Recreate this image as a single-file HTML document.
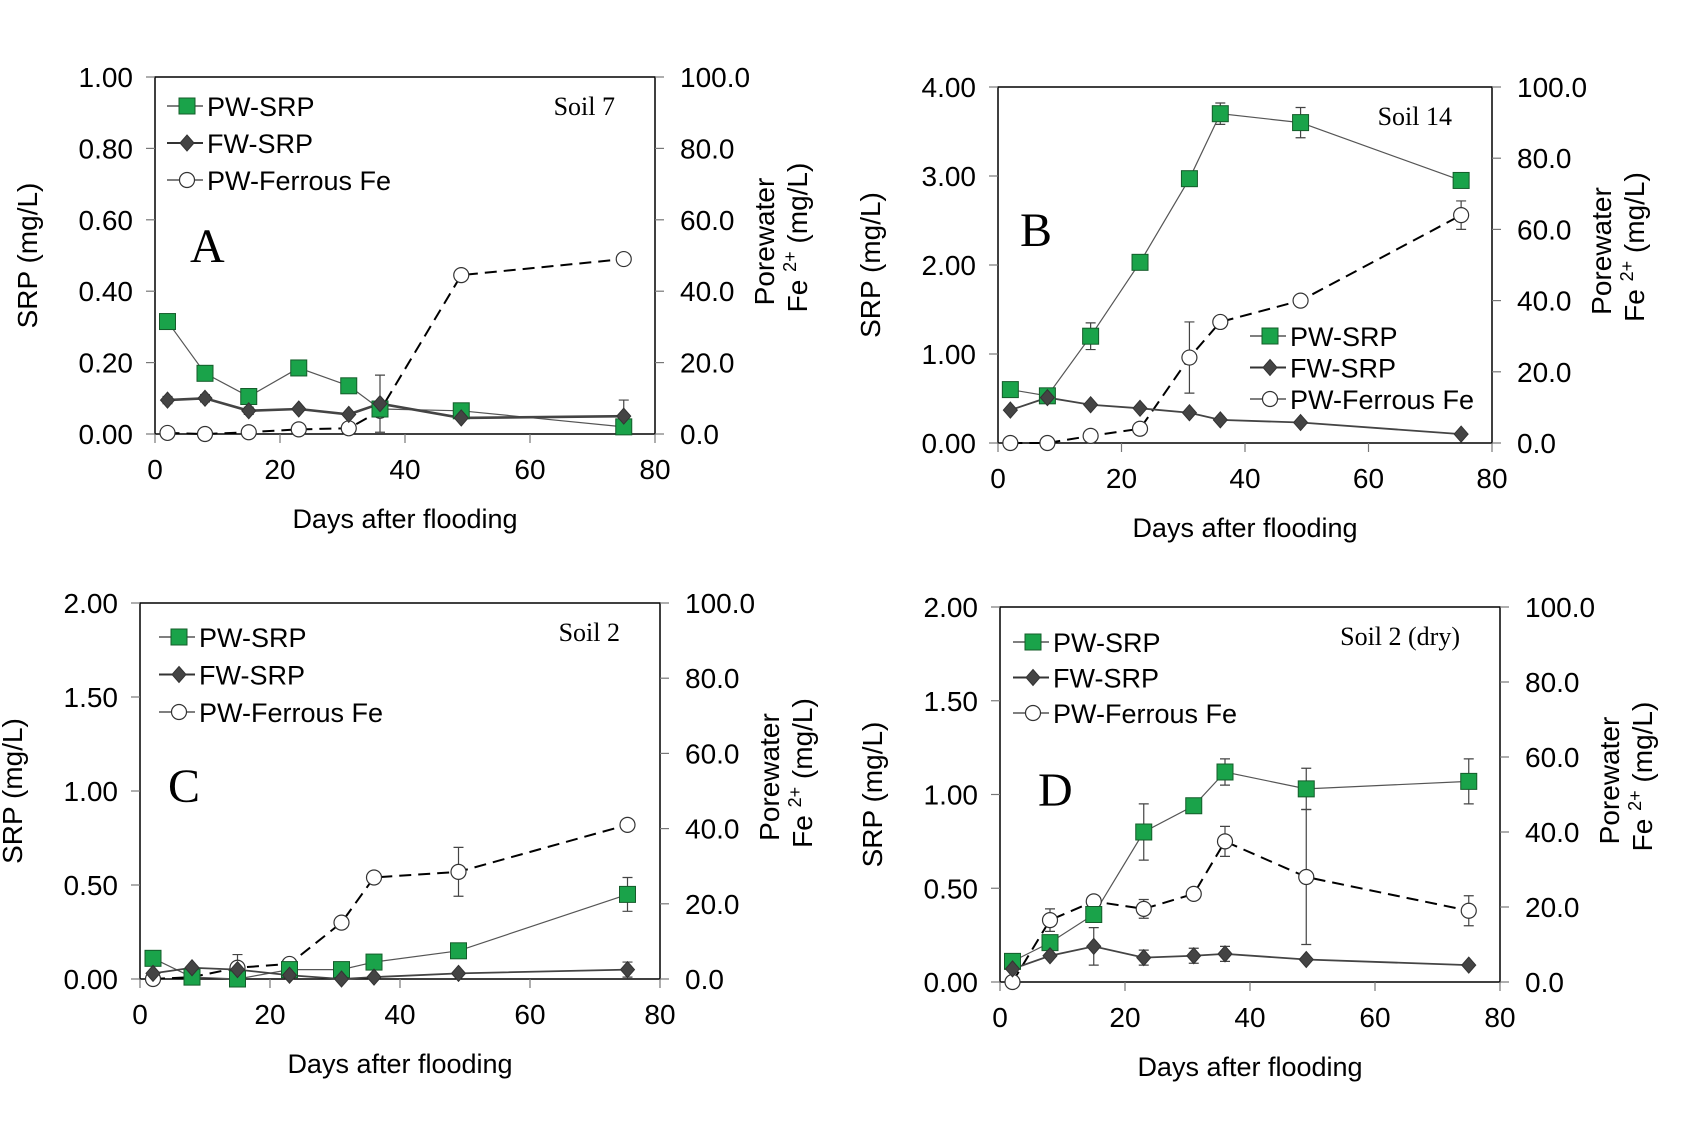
<!DOCTYPE html>
<html><head><meta charset="utf-8"><style>
html,body{margin:0;padding:0;background:#fff;}
svg{display:block;}
text{font-family:"Liberation Sans",Arial,sans-serif;fill:#000;}
.serif{font-family:"Liberation Serif","Times New Roman",serif;}
</style></head><body>
<svg id="fig" width="1701" height="1125" viewBox="0 0 1701 1125"></svg>
<script>
const days = [2, 8, 15, 23, 31, 36, 49, 75];
const xTicks = [0, 20, 40, 60, 80];

const pwA = [0.315, 0.17, 0.105, 0.185, 0.135, 0.07, 0.065, 0.02];
const fwA = [0.095, 0.10, 0.065, 0.07, 0.055, 0.085, 0.045, 0.05];
const feA = [0.3, 0, 0.5, 1.3, 1.6, 6.5, 44.5, 49];
const fwErrA = [0.01, 0.01, 0.01, 0, 0, 0.08, 0, 0.045];
const feErrA = [0, 0, 0, 0, 0, 0, 0, 0];
const pwErrA = [0, 0, 0, 0, 0, 0, 0, 0];
const yTicksA = ["0.00", "0.20", "0.40", "0.60", "0.80", "1.00"];

const pwB = [0.6, 0.53, 1.2, 2.03, 2.97, 3.7, 3.6, 2.95];
const fwB = [0.37, 0.51, 0.43, 0.39, 0.34, 0.26, 0.23, 0.1];
const feB = [0, 0, 2, 4, 24, 34, 40, 64];
const pwErrB = [0, 0, 0.15, 0, 0, 0.12, 0.17, 0.05];
const fwErrB = [0, 0, 0, 0, 0, 0, 0, 0];
const feErrB = [0, 0, 0, 0, 10, 0, 0, 4];
const yTicksB = ["0.00", "1.00", "2.00", "3.00", "4.00"];

const pwC = [0.11, 0.01, 0.0, 0.05, 0.05, 0.09, 0.15, 0.45];
const fwC = [0.03, 0.06, 0.05, 0.02, 0.0, 0.01, 0.03, 0.05];
const feC = [0, 0.5, 3, 4, 15, 27, 28.5, 41];
const pwErrC = [0.02, 0, 0, 0, 0, 0, 0.04, 0.09];
const fwErrC = [0, 0, 0, 0, 0, 0, 0, 0.04];
const feErrC = [0, 0, 3.5, 0, 0, 0, 6.5, 0];
const yTicksC = ["0.00", "0.50", "1.00", "1.50", "2.00"];

const pwD = [0.11, 0.21, 0.36, 0.80, 0.94, 1.12, 1.03, 1.07];
const fwD = [0.07, 0.14, 0.19, 0.13, 0.14, 0.15, 0.12, 0.09];
const feD = [0, 16.5, 21.5, 19.5, 23.5, 37.5, 28, 19];
const pwErrD = [0, 0, 0, 0.15, 0, 0.07, 0.11, 0.12];
const fwErrD = [0, 0, 0.1, 0.04, 0.04, 0.04, 0, 0];
const feErrD = [0, 3, 0, 2.5, 0, 4, 18, 4];
const yTicksD = ["0.00", "0.50", "1.00", "1.50", "2.00"];

const yRightTicks = ["0.0", "20.0", "40.0", "60.0", "80.0", "100.0"];

const NS = "http://www.w3.org/2000/svg";
const svg = document.getElementById("fig");
function mk(tag, attrs, parent, txt) {
  const e = document.createElementNS(NS, tag);
  for (const k in attrs) e.setAttribute(k, attrs[k]);
  if (txt !== undefined) e.textContent = txt;
  (parent || svg).appendChild(e);
  return e;
}

function panel(cfg) {
  const g = mk("g", {});
  
  
  const L = cfg.l, R = cfg.r, T = cfg.t, B = cfg.b;
  const yMax = cfg.yMax;
  const xs = d => L + (d / 80) * (R - L);
  const ys = v => B - (v / yMax) * (B - T);
  const yf = v => B - (v / 100) * (B - T);

  const frame = mk("rect", {x: L, y: T, width: R - L, height: B - T, fill: "none", stroke: "#000", "stroke-width": 1.5}, g);
  
  

  const n = cfg.yTicks.length;
  cfg.yTicks.forEach((lab, i) => {
    const v = yMax * i / (n - 1);
    const y = ys(v);
    mk("line", {x1: L - 9, x2: L, y1: y, y2: y, stroke: "#777", "stroke-width": 1.2}, g);
    const t = mk("text", {x: L - 22, y: y + 10, "text-anchor": "end", "font-size": 28}, g, lab);
    
    
  });
  yRightTicks.forEach((lab, i) => {
    const y = yf(i * 20);
    mk("line", {x1: R, x2: R + 9, y1: y, y2: y, stroke: "#777", "stroke-width": 1.2}, g);
    const t = mk("text", {x: R + 25, y: y + 10, "font-size": 28}, g, lab);
    
    
  });
  xTicks.forEach(d => {
    const x = xs(d);
    mk("line", {x1: x, x2: x, y1: B, y2: B + 9, stroke: "#777", "stroke-width": 1.2}, g);
    const t = mk("text", {x: x, y: B + 45, "text-anchor": "middle", "font-size": 28}, g, String(d));
    
    
  });

  const xt = mk("text", {x: (L + R) / 2, y: B + 94, "text-anchor": "middle", "font-size": 27}, g, "Days after flooding");
  
  
  const yl = mk("text", {transform: `translate(${L - 118},${(T + B) / 2}) rotate(-90)`, "text-anchor": "middle", "font-size": 28}, g, "SRP  (mg/L)");
  
  
  const yr1 = mk("text", {transform: `translate(${R + 119},${(T + B) / 2 - 14}) rotate(-90)`, "text-anchor": "middle", "font-size": 28}, g, "Porewater");
  
  
  const yr2 = mk("text", {transform: `translate(${R + 152},${(T + B) / 2 - 18}) rotate(-90)`, "text-anchor": "middle", "font-size": 28}, g);
  
  
  mk("tspan", {}, yr2, "Fe ");
  mk("tspan", {"font-size": 18, dy: -11}, yr2, "2+");
  mk("tspan", {dy: 11}, yr2, " (mg/L)");

  const lt = mk("text", {x: cfg.letterX, y: cfg.letterY, "font-size": 48, class: "serif"}, g, cfg.id);
  
  
  const sl = mk("text", {x: R - 40, y: T + 38, "text-anchor": "end", "font-size": 26, class: "serif"}, g, cfg.soil);
  
  

  function errBars(vals, errs, scale) {
    days.forEach((d, i) => {
      if (!errs[i]) return;
      const x = xs(d), y1 = scale(vals[i] + errs[i]), y2 = scale(Math.max(0, vals[i] - errs[i]));
      const e = mk("path", {d: `M${x},${y1}V${y2}M${x - 5},${y1}H${x + 5}M${x - 5},${y2}H${x + 5}`, stroke: "#444", "stroke-width": 1.2, fill: "none"}, g);
      
      
    });
  }
  function line(vals, scale, style, name) {
    const pts = days.map((d, i) => xs(d) + "," + scale(vals[i])).join(" ");
    const p = mk("polyline", Object.assign({points: pts, fill: "none"}, style), g);
    
    
  }
  function square(x, y) { return mk("rect", {x: x - 8, y: y - 8, width: 16, height: 16, fill: "#1aa34a", stroke: "#145c2a", "stroke-width": 1}, g); }
  function diamond(x, y) { return mk("path", {d: `M${x},${y - 8}L${x + 7},${y}L${x},${y + 8}L${x - 7},${y}Z`, fill: "#444", stroke: "#333", "stroke-width": 1}, g); }
  function circle(x, y) { return mk("circle", {cx: x, cy: y, r: 7.5, fill: "#fff", stroke: "#333", "stroke-width": 1.2}, g); }

  errBars(cfg.fe, cfg.feErr, yf);
  errBars(cfg.pw, cfg.pwErr, ys);
  errBars(cfg.fw, cfg.fwErr, ys);
  line(cfg.fe, yf, {stroke: "#000", "stroke-width": 2, "stroke-dasharray": "12,7"}, "fe-line");
  line(cfg.pw, ys, {stroke: "#555", "stroke-width": 1.2}, "pw-srp-line");
  line(cfg.fw, ys, {stroke: "#444", "stroke-width": cfg.id === "A" ? 2.6 : 1.8}, "fw-srp-line");
  days.forEach((d, i) => {
    const c = circle(xs(d), yf(cfg.fe[i]));
    
    
  });
  days.forEach((d, i) => {
    const s = square(xs(d), ys(cfg.pw[i]));
    
    
  });
  days.forEach((d, i) => {
    const m = diamond(xs(d), ys(cfg.fw[i]));
    
    
  });

  const lg = mk("g", {}, g);
  
  
  const labels = ["PW-SRP", "FW-SRP", "PW-Ferrous Fe"];
  labels.forEach((lab, i) => {
    const y = cfg.legY + i * cfg.legDy, x = cfg.legX - 20;
    mk("line", {x1: x, x2: x + 36, y1: y, y2: y, stroke: "#333", "stroke-width": i === 1 ? 2 : 1.2}, lg);
    const mkr = i === 0 ? square(x + 20, y) : i === 1 ? diamond(x + 20, y) : circle(x + 20, y);
    lg.appendChild(mkr);
    const t = mk("text", {x: x + 40, y: y + 10, "font-size": 27}, lg, lab);
    
    
  });
}

panel({id: "A", soil: "Soil 7", l: 155, r: 655, t: 77, b: 434, yMax: 1, yTicks: yTicksA,
  pw: pwA, fw: fwA, fe: feA, pwErr: pwErrA, fwErr: fwErrA, feErr: feErrA,
  legX: 187, legY: 106, legDy: 37, letterX: 190, letterY: 262});
panel({id: "B", soil: "Soil 14", l: 998, r: 1492, t: 87, b: 443, yMax: 4, yTicks: yTicksB,
  pw: pwB, fw: fwB, fe: feB, pwErr: pwErrB, fwErr: fwErrB, feErr: feErrB,
  legX: 1270, legY: 336, legDy: 31.5, letterX: 1020, letterY: 246});
panel({id: "C", soil: "Soil 2", l: 140, r: 660, t: 603, b: 979, yMax: 2, yTicks: yTicksC,
  pw: pwC, fw: fwC, fe: feC, pwErr: pwErrC, fwErr: fwErrC, feErr: feErrC,
  legX: 179, legY: 637, legDy: 37.5, letterX: 168, letterY: 802});
panel({id: "D", soil: "Soil 2 (dry)", l: 1000, r: 1500, t: 607, b: 982, yMax: 2, yTicks: yTicksD,
  pw: pwD, fw: fwD, fe: feD, pwErr: pwErrD, fwErr: fwErrD, feErr: feErrD,
  legX: 1033, legY: 642, legDy: 35.5, letterX: 1038, letterY: 806});
</script>
</body></html>
